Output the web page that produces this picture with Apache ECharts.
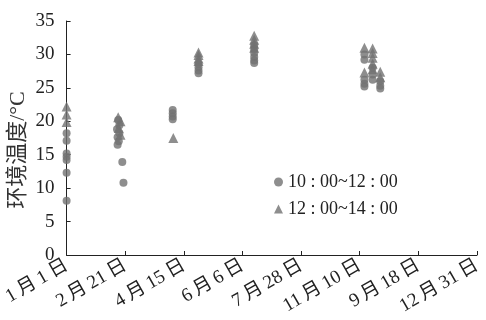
<!DOCTYPE html>
<html>
<head>
<meta charset="utf-8">
<script src="https://cdn.jsdelivr.net/npm/echarts@6/dist/echarts.min.js"></script>
<style>
    html, body { margin: 0; padding: 0; background: #fff; }
    #chart { width: 486px; height: 320px; }
</style>
</head>
<body>
<div id="chart"></div>
<script>
    // x轴刻度标签（等距）
    var tickLabels = ['1月1日', '2月21日', '4月15日', '6月6日', '7月28日', '11月10日', '9月18日', '12月31日'];

    // 10:00~12:00 圆点
    var amX = [0, 0, 0, 0, 0, 0, 0,
        0.88, 0.9, 0.86, 0.9, 0.87, 0.89, 0.87, 0.95, 0.97,
        1.81, 1.81, 1.81, 1.81,
        2.25, 2.25, 2.25, 2.25,
        3.2, 3.2, 3.2, 3.2, 3.2, 3.2,
        5.08, 5.08, 5.08, 5.08, 5.08, 5.22, 5.22, 5.22, 5.35, 5.35, 5.35];
    var amY = [18.2, 17.1, 15.2, 14.7, 14.2, 12.3, 8.1,
        20.2, 19.4, 18.8, 18.2, 17.6, 17.0, 16.5, 13.9, 10.8,
        21.7, 21.2, 20.7, 20.3,
        28.6, 28.1, 27.6, 27.2,
        31.4, 30.8, 30.2, 29.6, 29.1, 28.7,
        30.0, 29.2, 26.2, 25.6, 25.2, 28.0, 27.0, 26.2, 26.0, 25.3, 24.9];

    // 12:00~14:00 三角
    var pmX = [0, 0, 0,
        0.88, 0.92, 0.89, 0.92,
        1.82,
        2.25, 2.25, 2.25, 2.25,
        3.2, 3.2, 3.2, 3.2,
        5.08, 5.08, 5.22, 5.22, 5.22, 5.22, 5.22, 5.35, 5.35];
    var pmY = [22.2, 21.0, 19.9,
        20.6, 20.0, 19.0, 18.0,
        17.5,
        30.3, 29.9, 29.4, 29.0,
        32.8, 32.2, 31.6, 31.0,
        31.0, 27.3, 30.9, 30.2, 29.5, 28.6, 27.8, 27.4, 26.6];

    function pairs(xs, ys) {
        return xs.map(function (x, i) { return [x, ys[i]]; });
    }

    var serif = '"Liberation Serif", "Noto Sans CJK SC", serif';
    var grey = '#727272';

    var chart = echarts.init(document.getElementById('chart'));
    var option = {
        animation: false,
        grid: { left: 65, right: 9, top: 21, bottom: 65 },
        graphic: [{
            type: 'text',
            x: 18,
            y: 150,
            rotation: Math.PI / 2,
            style: {
                text: '环境温度/°C',
                font: '22px ' + serif,
                fill: '#333',
                align: 'center',
                verticalAlign: 'middle'
            }
        }],
        legend: {
            orient: 'vertical',
            left: 269,
            top: 168,
            itemWidth: 9,
            itemHeight: 9,
            itemGap: 9,
            textStyle: { fontFamily: serif, fontSize: 18, color: '#222' },
            data: [
                { name: '10 : 00~12 : 00', icon: 'circle' },
                { name: '12 : 00~14 : 00', icon: 'triangle' }
            ]
        },
        xAxis: {
            type: 'value',
            min: 0,
            max: 7,
            interval: 1,
            splitLine: { show: false },
            axisLine: { lineStyle: { color: '#222', width: 1 } },
            axisTick: { inside: true, length: 4, lineStyle: { color: '#222' } },
            axisLabel: {
                rotate: 30,
                margin: 9,
                fontFamily: serif,
                fontSize: 19,
                color: '#222',
                formatter: function (v) {
                    var s = tickLabels[Math.round(v)] || '';
                    // 数字与汉字之间留细空
                    return s.replace(/(\d)(\D)/g, '$1\u2009$2').replace(/(\D)(\d)/g, '$1\u2009$2');
                }
            }
        },
        yAxis: {
            type: 'value',
            min: 0,
            max: 35,
            interval: 5,
            splitLine: { show: false },
            axisLine: { show: true, lineStyle: { color: '#222', width: 1 } },
            axisTick: { show: true, inside: true, length: 4, lineStyle: { color: '#222' } },
            axisLabel: { margin: 12, fontFamily: serif, fontSize: 19, color: '#222' }
        },
        series: [
            {
                name: '10 : 00~12 : 00',
                type: 'scatter',
                symbol: 'circle',
                symbolSize: 8,
                clip: false,
                itemStyle: { color: grey },
                data: pairs(amX, amY)
            },
            {
                name: '12 : 00~14 : 00',
                type: 'scatter',
                symbol: 'triangle',
                symbolSize: 10,
                clip: false,
                itemStyle: { color: grey },
                data: pairs(pmX, pmY)
            }
        ]
    };
    chart.setOption(option);
</script>
</body>
</html>
